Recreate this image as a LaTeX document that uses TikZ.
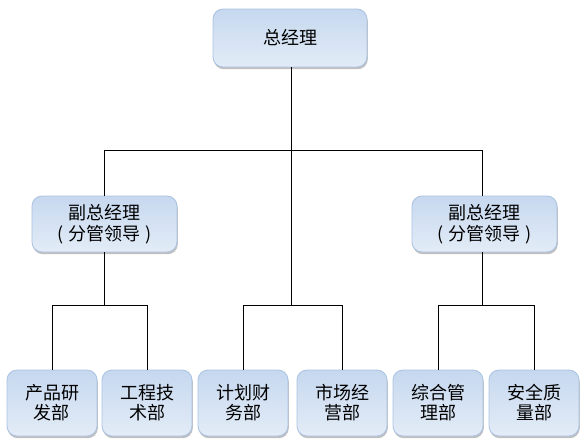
\documentclass[tikz,border=0pt]{standalone}
\usepackage{fontspec}
\newfontfamily\cjk{Noto Sans CJK SC}
\usetikzlibrary{shadows}
\definecolor{boxtop}{HTML}{C6D8EF}
\definecolor{boxbot}{HTML}{E3ECF7}
\definecolor{boxedge}{HTML}{A9C2E2}
\tikzset{
  orgbox/.style={rounded corners=10pt, draw=boxedge, line width=0.8pt,
    top color=boxtop, bottom color=boxbot, align=center,
    font=\cjk\fontsize{18}{21}\selectfont, text=black, inner sep=0pt,
    drop shadow={shadow xshift=0.8pt, shadow yshift=-2.2pt, fill=black!45, opacity=0.55}},
  conn/.style={line width=1pt, black}
}
\begin{document}
\begin{tikzpicture}[x=1pt,y=-1pt]
\useasboundingbox (0,0) rectangle (587,447);
\node[orgbox, minimum width=154pt, minimum height=58pt] (top) at (290,38) {总经理};
\node[orgbox, minimum width=145pt, minimum height=56pt] (vpl) at (104.5,224) {副总经理\\(\hspace{5pt}分管领导\hspace{5pt})};
\node[orgbox, minimum width=145pt, minimum height=56pt] (vpr) at (484.5,224) {副总经理\\(\hspace{5pt}分管领导\hspace{5pt})};
\foreach \n/\x/\t in {b1/52/{产品研\\发部}, b2/147/{工程技\\术部}, b3/243/{计划财\\务部}, b4/342/{市场经\\营部}, b5/438/{综合管\\理部}, b6/534/{安全质\\量部}}{
  \node[orgbox, minimum width=90pt, minimum height=66pt, font=\cjk\fontsize{18}{20}\selectfont] (\n) at (\x,403) {\t};
}
\coordinate (t1) at (291,150);
\coordinate (t2) at (291,305);
\coordinate (l1) at (104.5,150);
\coordinate (r1) at (482.5,150);
\coordinate (l2) at (104.5,305);
\coordinate (r2) at (482.5,305);
\draw[conn] (top.south -| t1) -- (t2);
\draw[conn] (vpl.north) -- (l1) -- (r1) -- (vpr.north -| r1);
\draw[conn] (b3.north) -- (b3.north |- t2) -- (b4.north |- t2) -- (b4.north);
\draw[conn] (vpl.south) -- (l2);
\draw[conn] (b1.north) -- (b1.north |- l2) -- (b2.north |- l2) -- (b2.north);
\draw[conn] (vpr.south -| r2) -- (r2);
\draw[conn] (b5.north) -- (b5.north |- r2) -- (b6.north |- r2) -- (b6.north);
\end{tikzpicture}
\end{document}
